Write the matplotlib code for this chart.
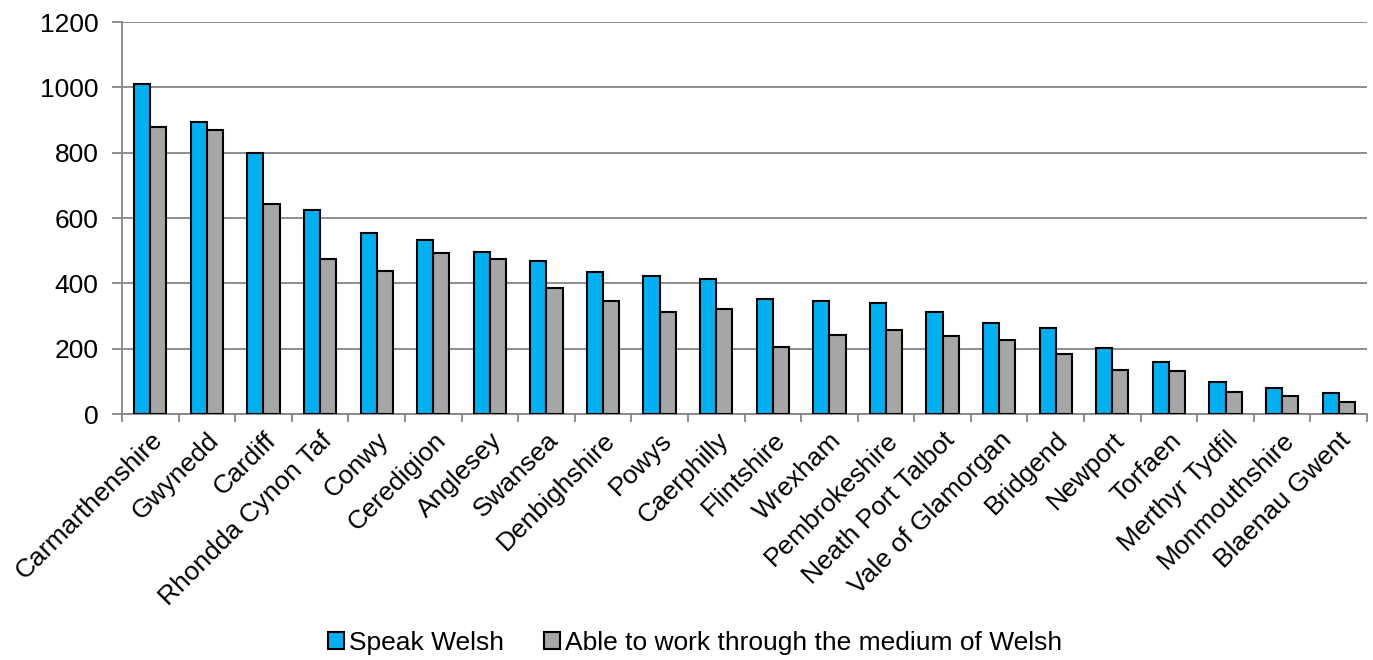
import matplotlib
matplotlib.use("Agg")
import matplotlib.pyplot as plt
import numpy as np

plt.rcParams['font.family'] = ['Liberation Sans', 'DejaVu Sans']

categories = ["Carmarthenshire", "Gwynedd", "Cardiff", "Rhondda Cynon Taf", "Conwy",
              "Ceredigion", "Anglesey", "Swansea", "Denbighshire", "Powys", "Caerphilly",
              "Flintshire", "Wrexham", "Pembrokeshire", "Neath Port Talbot",
              "Vale of Glamorgan", "Bridgend", "Newport", "Torfaen", "Merthyr Tydfil",
              "Monmouthshire", "Blaenau Gwent"]
speak_welsh = [1010, 893, 800, 626, 554, 533, 495, 469, 435, 421, 413,
               351, 345, 341, 313, 279, 262, 202, 160, 99, 79, 63]
work_welsh = [879, 868, 642, 476, 439, 493, 475, 385, 345, 313, 321,
              204, 241, 257, 239, 228, 185, 134, 132, 68, 54, 37]
y_ticks = [0, 200, 400, 600, 800, 1000, 1200]
series_names = ["Speak Welsh", "Able to work through the medium of Welsh"]

FS = 19

fig = plt.figure(figsize=(13.73, 6.6), dpi=100)
ax = fig.add_axes([122/1373, 1 - 414/660, 1245/1373, 392/660])

x = np.arange(len(categories))
w = 0.285
ax.bar(x - w/2, speak_welsh, w, color="#00B0F0", edgecolor="black", linewidth=1.5,
       label=series_names[0], zorder=3)
ax.bar(x + w/2, work_welsh, w, color="#A6A6A6", edgecolor="black", linewidth=1.5,
       label=series_names[1], zorder=3)

ax.set_xlim(-0.5, len(categories) - 0.5)
ax.set_ylim(0, 1200)
ax.set_yticks(y_ticks)
ax.set_yticklabels([str(v) for v in y_ticks], fontsize=FS)
ax.yaxis.grid(True, color="#868686", linewidth=1.3, zorder=0)
ax.set_axisbelow(True)

ax.set_xticks(x)
ax.set_xticklabels(categories, rotation=45, ha="right", rotation_mode="anchor", fontsize=FS)
ax.tick_params(axis="x", length=0, pad=10)
ax.set_xticks(np.arange(-0.5, len(categories)), minor=True)
ax.tick_params(axis="x", which="minor", length=6, color="#868686", width=1.3)
ax.tick_params(axis="y", length=7, color="#868686", width=1.3, pad=10)

for s in ["top", "right"]:
    ax.spines[s].set_visible(False)
for s in ["left", "bottom"]:
    ax.spines[s].set_color("#868686")
    ax.spines[s].set_linewidth(1.3)

leg = fig.legend(loc="center", bbox_to_anchor=(695/1373, 1 - 643/660), ncol=2, frameon=False,
                 fontsize=FS, handlelength=0.6, handleheight=0.6, handletextpad=0.2,
                 columnspacing=1.5, borderpad=0)

fig.savefig("out.png", dpi=100)
